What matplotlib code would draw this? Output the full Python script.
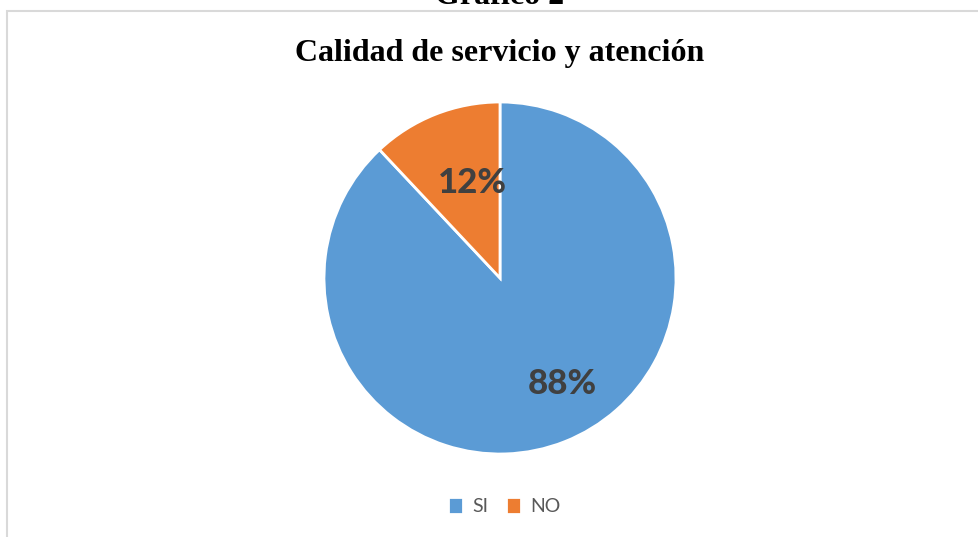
import matplotlib.pyplot as plt
from matplotlib.patches import Rectangle

# datos del gráfico
categorias = ["SI", "NO"]
porcentajes = [88, 12]
colores = ["#5B9BD5", "#ED7D31"]

titulo = "Calidad de servicio y atención"
encabezado = "Gráfico 2"

W, H = 979, 537
fig = plt.figure(figsize=(W / 100, H / 100), dpi=100)

# marco gris del área del gráfico
fig.patches.append(
    Rectangle((7 / W, -0.1), 1.1, (H - 11) / H + 0.1,
              transform=fig.transFigure, fill=False,
              edgecolor="#D9D9D9", linewidth=1.5)
)

# encabezado cortado arriba
fig.text(500 / W, 1 - 4 / H, encabezado, ha="center", va="baseline",
         family="Liberation Serif", weight="bold", fontsize=23)

fig.text(500 / W, 1 - 54 / H, titulo, ha="center", va="center",
         family="Liberation Serif", weight="bold", fontsize=23)

# ejes del pastel: centro (500, 278), radio 176 px
cx, cy, r = 500, 278, 176
ax = fig.add_axes([(cx - r) / W, (H - cy - r) / H, 2 * r / W, 2 * r / H])

wedges, textos, autotextos = ax.pie(
    porcentajes,
    colors=colores,
    startangle=90,
    counterclock=False,
    autopct="%d%%",
    wedgeprops=dict(edgecolor="white", linewidth=2),
    textprops=dict(family="Lato", weight="black", fontsize=25, color="#404040"),
)
ax.set_xlim(-1, 1)
ax.set_ylim(-1, 1)
ax.set_aspect("equal")
ax.axis("off")

# posiciones de las etiquetas
posiciones = [(0.352, -0.602), (-0.159, 0.54)]
for t, p in zip(autotextos, posiciones):
    t.set_position(p)
    t.set_ha("center")
    t.set_va("center")

# leyenda
fig.legend(wedges, categorias, loc="center", bbox_to_anchor=(504 / W, 1 - 506 / H),
           ncol=2, frameon=False, handlelength=0.8, handleheight=0.95,
           handletextpad=0.45, columnspacing=0.9,
           prop=dict(family="Lato", size=14), labelcolor="#595959")

fig.savefig("out.png", dpi=100)
